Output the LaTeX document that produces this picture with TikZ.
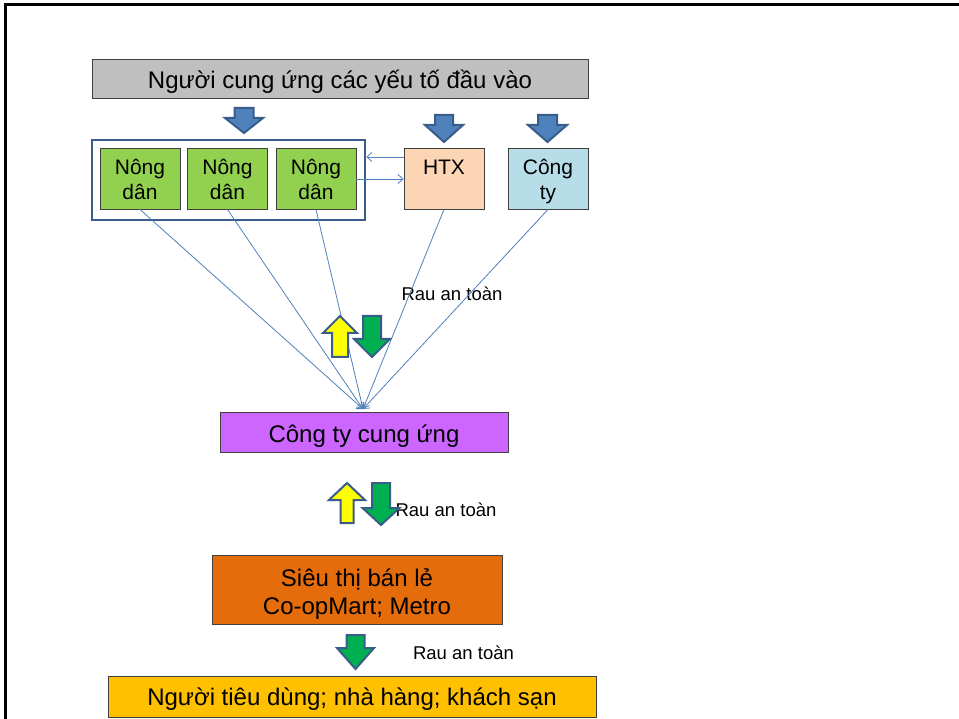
\documentclass[tikz,border=0pt]{standalone}
\usepackage{fontspec}
\setmainfont{Liberation Sans}
\usetikzlibrary{arrows.meta}
\definecolor{boxline}{HTML}{404040}
\definecolor{titlegray}{HTML}{BFBFBF}
\definecolor{farmgreen}{HTML}{92D050}
\definecolor{peach}{HTML}{FCD5B5}
\definecolor{lightblue}{HTML}{B7DEE8}
\definecolor{purplebox}{HTML}{CC66FF}
\definecolor{orangebox}{HTML}{E46C0A}
\definecolor{goldbox}{HTML}{FFC000}
\definecolor{arrowblue}{HTML}{4F81BD}
\definecolor{darkblue}{HTML}{385D8A}
\definecolor{arrowgreen}{HTML}{00B050}
\definecolor{arrowyellow}{HTML}{FFFF00}
\newcommand\DownArr[7]{\draw[blockarr, fill=#7] (#1-#5,#2) -- (#1+#5,#2) -- (#1+#5,#3) -- (#1+#6,#3) -- (#1,#4) -- (#1-#6,#3) -- (#1-#5,#3) -- cycle;}
\newcommand\UpArr[7]{\draw[blockarr, fill=#7] (#1,#2) -- (#1+#6,#3) -- (#1+#5,#3) -- (#1+#5,#4) -- (#1-#5,#4) -- (#1-#5,#3) -- (#1-#6,#3) -- cycle;}
\newcommand\BoxText[2]{\raisebox{#1}[\height][\depth]{\begin{tabular}{@{}c@{}}#2\end{tabular}}}
\tikzset{
  box/.style={draw=boxline, line width=0.9pt, inner sep=0pt},
  bigtext/.style={font=\fontsize{24}{28}\selectfont},
  smalltext/.style={font=\fontsize{21}{25}\selectfont},
  raulabel/.style={font=\fontsize{18.5}{21}\selectfont, inner sep=0pt},
  conn/.style={draw=arrowblue, line width=0.8pt, -{Straight Barb[length=5pt,width=9pt]}},
  blockarr/.style={draw=darkblue, line width=2pt, line join=miter},
}
\begin{document}
\begin{tikzpicture}[x=1pt, y=-1pt]
\useasboundingbox (0,0) rectangle (959,719);
\fill[white] (0,0) rectangle (959,719);
% frame
\draw[black, line width=3pt] (5,719) -- (5,4.7) -- (959,4.7);

% title
\node[box, bigtext, fill=titlegray, minimum width=496pt, minimum height=39pt] (title) at (340,78.5) {\BoxText{-4pt}{Người cung ứng các yếu tố đầu vào}};

% group box
\node[draw=darkblue, line width=2.5pt, minimum width=273pt, minimum height=80pt, inner sep=0pt] (grp) at (228.5,180) {};
\node[box, smalltext, fill=farmgreen, minimum width=80pt, minimum height=61pt] (nd1) at (140,178.5) {\BoxText{-4pt}{Nông\\dân}};
\node[box, smalltext, fill=farmgreen, minimum width=80pt, minimum height=61pt] (nd2) at (227.5,178.5) {\BoxText{-4pt}{Nông\\dân}};
\node[box, smalltext, fill=farmgreen, minimum width=80pt, minimum height=61pt] (nd3) at (316,178.5) {\BoxText{-4pt}{Nông\\dân}};
\node[box, smalltext, fill=peach, minimum width=80pt, minimum height=61pt] (htx) at (444,178.5) {\BoxText{-4pt}{HTX\\\mbox{}}};
\node[box, smalltext, fill=lightblue, minimum width=80pt, minimum height=61pt] (cty) at (548,178.5) {\BoxText{-4pt}{Công\\ty}};

% lower chain
\node[box, bigtext, fill=purplebox, minimum width=288pt, minimum height=40pt] (cu) at (364,432) {\BoxText{-4.5pt}{Công ty cung ứng}};
\node[box, bigtext, fill=orangebox, minimum width=290pt, minimum height=69pt] (st) at (357,589.5) {\BoxText{-5.5pt}{Siêu thị bán lẻ\\Co-opMart; Metro}};
\node[box, bigtext, fill=goldbox, minimum width=488pt, minimum height=41pt] (ntd) at (352,696.5) {\BoxText{-3.5pt}{Người tiêu dùng; nhà hàng; khách sạn}};

% labels
\node[raulabel] (r1) at (452,294) {Rau an toàn};
\node[raulabel] (r2) at (446,510) {Rau an toàn};
\node[raulabel] (r3) at (463.5,653) {Rau an toàn};

% connectors
\coordinate (conv) at (363,409);
\draw[conn] (htx.west |- 0,157) -- (grp.east |- 0,157);
\draw[conn] (nd3.east |- 0,179) -- (htx.west |- 0,179);
\draw[conn] (nd1.south) -- (conv);
\draw[conn] (nd2.south) -- (conv);
\draw[conn] (nd3.south) -- (conv);
\draw[conn] (htx.south) -- (conv);
\draw[conn] (cty.south) -- (conv);

% blue input arrows
\DownArr{244}{108}{118}{133}{9.5}{19}{arrowblue}
\DownArr{444}{115}{125}{142}{9}{19}{arrowblue}
\DownArr{547.5}{115}{125}{142}{9.5}{19.5}{arrowblue}

% exchange arrows
\UpArr{340}{316}{333}{357}{8}{17}{arrowyellow}
\DownArr{372}{316}{339}{357}{9}{18}{arrowgreen}
\UpArr{347}{483}{500}{523}{6.5}{18}{arrowyellow}
\DownArr{381}{483}{508}{525}{9}{18.5}{arrowgreen}
\DownArr{355.5}{635}{648}{669}{9}{18.5}{arrowgreen}
\end{tikzpicture}
\end{document}
